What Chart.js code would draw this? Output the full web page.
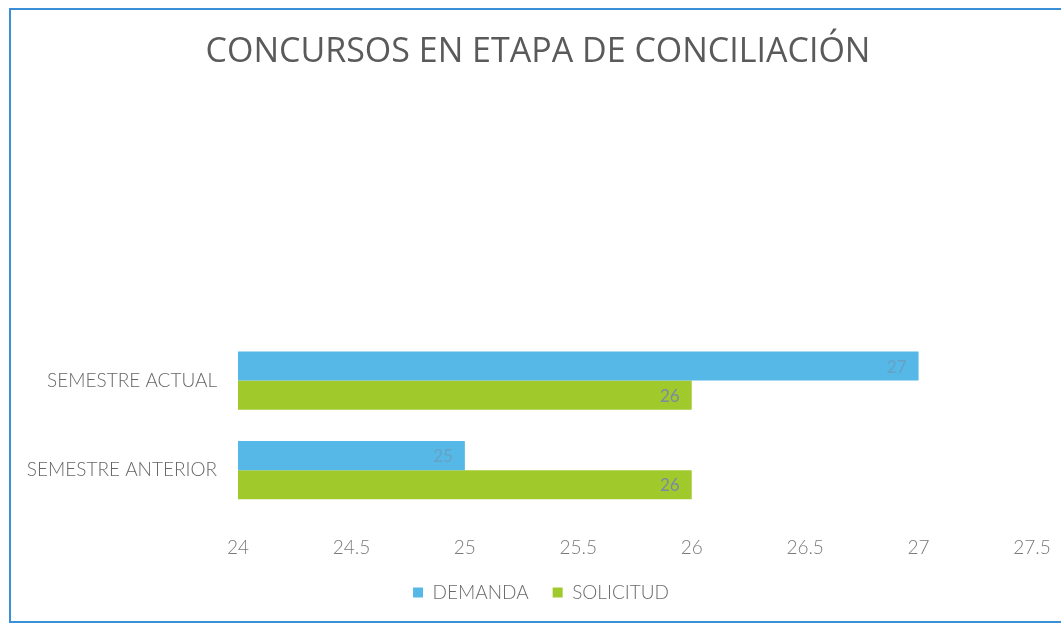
<!DOCTYPE html>
<html>
<head>
<meta charset="utf-8">
<script src="https://cdn.jsdelivr.net/npm/chart.js@4"></script>
<style>
  html, body { margin: 0; padding: 0; background: #ffffff; }
  #wrap { position: relative; width: 1061px; height: 625px; }
  #frame {
    position: absolute; left: 9px; top: 8px; width: 1060px; height: 611px;
    border: 2px solid #3a8fd6; border-right: none; pointer-events: none;
  }
</style>
</head>
<body>
<div id="wrap">
  <canvas id="chart" width="1061" height="625"></canvas>
  <div id="frame"></div>
</div>
<script>
const categories = ["SEMESTRE ACTUAL", "SEMESTRE ANTERIOR"];
const demanda = [27, 25];
const solicitud = [26, 26];
const xTicks = [24, 24.5, 25, 25.5, 26, 26.5, 27, 27.5];

// labels drawn inside the bar end, like the original
const barLabels = {
  id: "barLabels",
  afterDatasetsDraw(chart) {
    const ctx = chart.ctx;
    ctx.save();
    ctx.font = "17px Lato";
    ctx.textAlign = "right";
    ctx.textBaseline = "middle";
    chart.data.datasets.forEach((ds, i) => {
      const meta = chart.getDatasetMeta(i);
      meta.data.forEach((bar, j) => {
        ctx.fillStyle = i === 0 ? "rgba(120,140,165,0.5)" : "#7d8aa3";
        ctx.fillText(String(ds.data[j]), bar.x - 12, bar.y + 1);
      });
    });
    ctx.restore();
  },
};

// title and legend sit a bit right of centre in the original
const nudgeBoxes = {
  id: "nudgeBoxes",
  afterLayout(chart) {
    if (chart.titleBlock) {
      chart.titleBlock.left += 11;
      chart.titleBlock.right += 11;
    }
    if (chart.legend) {
      chart.legend.left += 14;
      chart.legend.right += 14;
    }
  },
};

new Chart(document.getElementById("chart").getContext("2d"), {
  type: "bar",
  data: {
    labels: categories,
    datasets: [
      {
        label: "DEMANDA",
        data: demanda,
        backgroundColor: "#55b8e6",
        categoryPercentage: 0.65,
        barPercentage: 1.0,
      },
      {
        label: "SOLICITUD",
        data: solicitud,
        backgroundColor: "#a0c92c",
        categoryPercentage: 0.65,
        barPercentage: 1.0,
      },
    ],
  },
  options: {
    indexAxis: "y",
    responsive: false,
    animation: false,
    layout: { padding: { left: 22, right: 29, top: 0, bottom: 13 } },
    plugins: {
      title: {
        display: true,
        text: "CONCURSOS EN ETAPA DE CONCILIACIÓN",
        color: "#5a5a5a",
        font: { family: "Open Sans", size: 34, weight: "normal" },
        padding: { top: 32, bottom: 263 },
      },
      legend: {
        position: "bottom",
        onClick: null,
        labels: {
          color: "#6a6a6a",
          font: { family: "Lato", size: 19, weight: "300" },
          boxWidth: 10,
          boxHeight: 10,
          padding: 24,
        },
      },
      tooltip: { enabled: false },
    },
    scales: {
      x: {
        min: 24,
        max: 27.5,
        afterBuildTicks: (scale) => {
          scale.ticks = xTicks.map((v) => ({ value: v }));
        },
        afterFit: (scale) => {
          scale.height = 44;
        },
        // invisible tick marks only to push the labels down
        grid: {
          display: true,
          drawOnChartArea: false,
          drawTicks: true,
          tickLength: 19,
          color: "rgba(0,0,0,0)",
        },
        border: { display: false },
        ticks: {
          color: "#7a7a7a",
          font: { family: "Lato", size: 19, weight: "300" },
          padding: 2,
          callback: (value) => String(value),
        },
      },
      y: {
        afterFit: (scale) => {
          scale.width = 216;
        },
        grid: { display: false, drawTicks: false },
        border: { display: false },
        ticks: {
          color: "#666666",
          font: { family: "Lato", size: 19, weight: "300" },
          padding: 21,
        },
      },
    },
  },
  plugins: [barLabels, nudgeBoxes],
});
</script>
</body>
</html>
